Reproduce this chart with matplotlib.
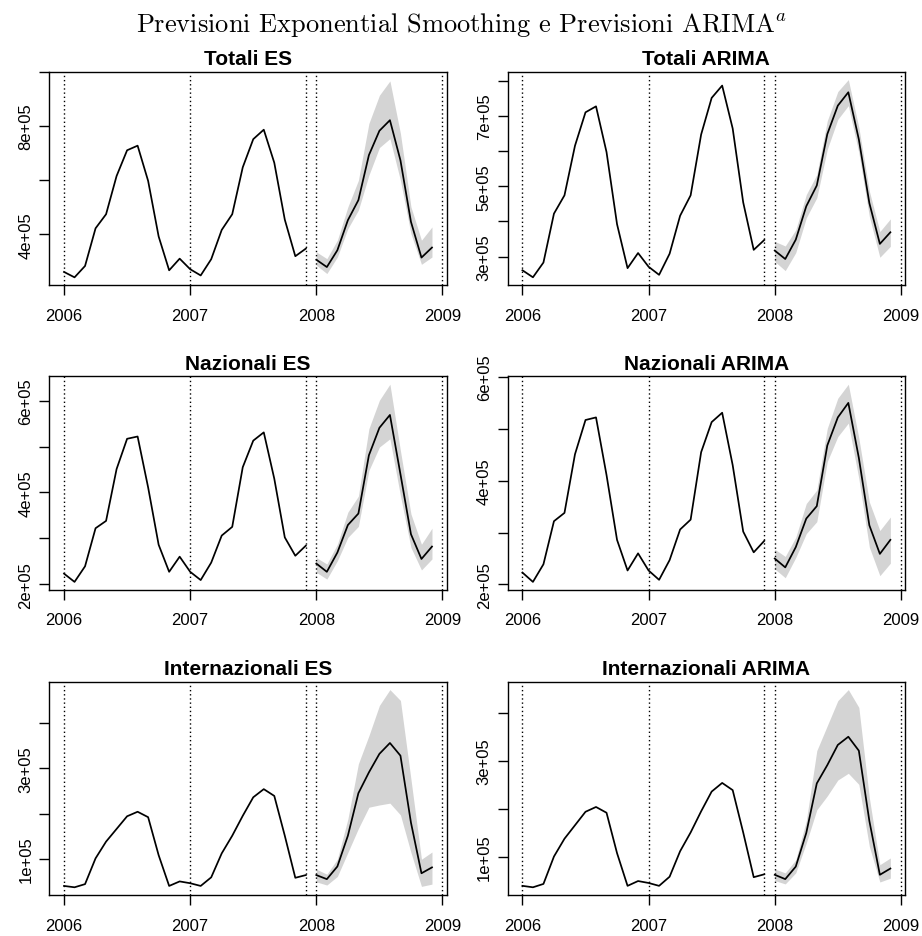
import numpy as np
import matplotlib
matplotlib.use("Agg")
import matplotlib.pyplot as plt

plt.rcParams['font.family'] = ['Liberation Sans', 'DejaVu Sans']
plt.rcParams['mathtext.fontset'] = 'cm'

# time axis: monthly, 24 observed months then 12 forecast months
t_obs = 2006 + np.arange(24) / 12.0
t_fc = 2008 + np.arange(12) / 12.0

# observed series (units of 1e5)
totali_obs = [2.61, 2.41, 2.83, 4.22, 4.74, 6.15, 7.10, 7.27, 5.97, 3.92, 2.67, 3.10,
              2.71, 2.48, 3.08, 4.16, 4.74, 6.47, 7.51, 7.86, 6.64, 4.54, 3.19, 3.47]
nazionali_obs = [2.23, 2.05, 2.39, 3.22, 3.38, 4.51, 5.17, 5.22, 4.11, 2.86, 2.27, 2.60,
                 2.27, 2.09, 2.47, 3.06, 3.25, 4.55, 5.13, 5.31, 4.30, 3.02, 2.62, 2.84]
internaz_obs = [0.40, 0.37, 0.44, 1.01, 1.38, 1.66, 1.94, 2.04, 1.92, 1.08, 0.40, 0.50,
                0.46, 0.40, 0.59, 1.12, 1.51, 1.95, 2.36, 2.54, 2.39, 1.51, 0.58, 0.64]

# forecasts: mean, lower, upper (units of 1e5)
totali_es = [3.06, 2.79, 3.41, 4.52, 5.26, 6.92, 7.82, 8.21, 6.73, 4.46, 3.14, 3.51]
totali_es_lo = [2.86, 2.55, 3.16, 4.21, 4.89, 6.18, 7.20, 7.53, 5.99, 4.02, 2.89, 3.16]
totali_es_hi = [3.35, 3.10, 3.78, 5.01, 5.99, 8.09, 9.13, 9.66, 7.72, 5.01, 3.78, 4.27]

totali_ar = [3.17, 2.93, 3.48, 4.43, 5.02, 6.48, 7.29, 7.67, 6.33, 4.52, 3.36, 3.69]
totali_ar_lo = [2.86, 2.60, 3.11, 4.10, 4.67, 6.05, 6.90, 7.29, 5.95, 4.14, 2.98, 3.29]
totali_ar_hi = [3.43, 3.30, 3.76, 4.76, 5.33, 6.86, 7.69, 8.03, 6.67, 4.86, 3.71, 4.07]

nazionali_es = [2.45, 2.27, 2.69, 3.29, 3.54, 4.81, 5.41, 5.69, 4.40, 3.09, 2.55, 2.82]
nazionali_es_lo = [2.26, 2.11, 2.51, 3.02, 3.26, 4.48, 4.99, 5.17, 3.93, 2.80, 2.31, 2.55]
nazionali_es_hi = [2.58, 2.44, 2.87, 3.57, 3.92, 5.39, 6.01, 6.36, 4.91, 3.53, 2.87, 3.22]

nazionali_ar = [2.50, 2.33, 2.72, 3.27, 3.51, 4.68, 5.22, 5.50, 4.44, 3.14, 2.59, 2.86]
nazionali_ar_lo = [2.30, 2.13, 2.52, 2.98, 3.21, 4.37, 4.85, 5.11, 4.04, 2.72, 2.17, 2.41]
nazionali_ar_hi = [2.68, 2.54, 2.91, 3.56, 3.82, 5.01, 5.59, 5.86, 4.82, 3.59, 3.04, 3.30]

internaz_es = [0.64, 0.55, 0.83, 1.51, 2.45, 2.91, 3.32, 3.56, 3.28, 1.80, 0.68, 0.81]
internaz_es_lo = [0.49, 0.42, 0.61, 1.14, 1.67, 2.14, 2.19, 2.23, 1.97, 1.14, 0.39, 0.44]
internaz_es_hi = [0.77, 0.66, 0.99, 1.88, 3.10, 3.72, 4.39, 4.74, 4.50, 2.76, 0.99, 1.15]

internaz_ar = [0.63, 0.54, 0.80, 1.50, 2.53, 2.91, 3.33, 3.50, 3.21, 1.75, 0.63, 0.76]
internaz_ar_lo = [0.51, 0.44, 0.67, 1.29, 1.98, 2.27, 2.60, 2.74, 2.51, 1.22, 0.48, 0.56]
internaz_ar_hi = [0.75, 0.67, 0.94, 1.75, 3.21, 3.73, 4.25, 4.48, 4.11, 2.23, 0.84, 0.98]

titles = ["Totali ES", "Totali ARIMA", "Nazionali ES", "Nazionali ARIMA",
          "Internazionali ES", "Internazionali ARIMA"]
observed = [totali_obs, totali_obs, nazionali_obs, nazionali_obs, internaz_obs, internaz_obs]
fc_mean = [totali_es, totali_ar, nazionali_es, nazionali_ar, internaz_es, internaz_ar]
fc_lo = [totali_es_lo, totali_ar_lo, nazionali_es_lo, nazionali_ar_lo, internaz_es_lo, internaz_ar_lo]
fc_hi = [totali_es_hi, totali_ar_hi, nazionali_es_hi, nazionali_ar_hi, internaz_es_hi, internaz_ar_hi]

# y ticks (units of 1e5) and which of them get a label
yticks = [[4, 6, 8, 10], [3, 4, 5, 6, 7, 8], [2, 3, 4, 5, 6], [2, 3, 4, 5, 6],
          [1, 2, 3, 4], [1, 2, 3, 4]]
ylabeled = [[4, 8], [3, 5, 7], [2, 4, 6], [2, 4, 6], [1, 3], [1, 3]]
xticks = [2006, 2007, 2008, 2009]

W, H = 922, 937
fig = plt.figure(figsize=(W / 100, H / 100), dpi=100)

lefts = [49.3, 507.7]
tops = [72.7, 377.3, 682.7]
aw, ah = 397.4, 213.5

for k in range(6):
    r, c = divmod(k, 2)
    ax = fig.add_axes([lefts[c] / W, 1 - (tops[r] + ah) / H, aw / W, ah / H])

    obs = np.array(observed[k]) * 1e5
    m = np.array(fc_mean[k]) * 1e5
    lo = np.array(fc_lo[k]) * 1e5
    hi = np.array(fc_hi[k]) * 1e5

    ax.fill_between(t_fc, lo, hi, color='#d4d4d4', lw=0)
    ax.plot(t_obs, obs, color='black', lw=1.25)
    ax.plot(t_fc, m, color='black', lw=1.25)

    # R-like 4% padding
    xspan = t_fc[-1] - t_obs[0]
    ax.set_xlim(t_obs[0] - 0.04 * xspan, t_fc[-1] + 0.04 * xspan)
    ymin = min(obs.min(), lo.min())
    ymax = max(obs.max(), hi.max())
    ax.set_ylim(ymin - 0.04 * (ymax - ymin), ymax + 0.04 * (ymax - ymin))

    for v in [2006, 2007, t_obs[-1], t_fc[0], 2009]:
        ax.axvline(v, color='black', lw=1.0, linestyle=(0, (1, 2)))

    ax.set_xticks(xticks)
    ax.set_xticklabels([str(x) for x in xticks])
    ax.set_yticks([v * 1e5 for v in yticks[k]])
    ax.set_yticklabels([("%.0e" % (v * 1e5)) if v in ylabeled[k] else ""
                        for v in yticks[k]], rotation=90, va='center')

    ax.tick_params(axis='both', direction='out', length=7.2, width=1.0, labelsize=12)
    ax.tick_params(axis='x', pad=9)
    ax.tick_params(axis='y', pad=4.3)
    for s in ax.spines.values():
        s.set_linewidth(1.0)

    ax.set_title(titles[k], fontsize=15, fontweight='bold', pad=5.4)

fig.text(0.5, 1 - 31.7 / H,
         "Previsioni Exponential Smoothing e Previsioni ARIMA$^a$",
         family='cmr10', fontsize=19, ha='center', va='baseline')

fig.savefig("out.png", dpi=100)
